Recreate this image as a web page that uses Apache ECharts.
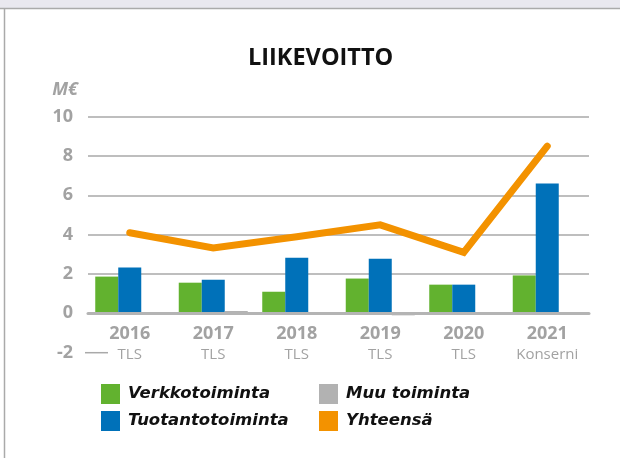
<!DOCTYPE html>
<html>
<head>
<meta charset="utf-8">
<script src="https://cdn.jsdelivr.net/npm/echarts@6/dist/echarts.min.js"></script>
<style>
  html, body { margin: 0; padding: 0; background: #fff; }
  #chart { width: 620px; height: 458px; }
</style>
</head>
<body>
<div id="chart"></div>
<script>
// vuodet ja alarivin tekstit
const years = ["2016", "2017", "2018", "2019", "2020", "2021"];
const subLabels = ["TLS", "TLS", "TLS", "TLS", "TLS", "Konserni"];

// liikevoitto M€
const verkko = [1.87, 1.56, 1.1, 1.77, 1.46, 1.93];
const tuotanto = [2.33, 1.71, 2.83, 2.78, 1.46, 6.6];
const muu = [0.06, 0.12, 0.07, -0.1, 0.05, 0];
const yhteensa = [4.1, 3.33, 3.9, 4.5, 3.1, 8.5];

const yTicks = { min: -2, max: 10, step: 2 };

const grey = "#a2a2a2";
const chart = echarts.init(document.getElementById("chart"));

const legendText = {
  fontSize: 16.5,
  fontStyle: "italic",
  fontWeight: "bold",
  color: "#111",
  fontFamily: "DejaVu Sans",
  padding: [0, 0, 0, 3],
};

const option = {
  animation: false,
  backgroundColor: "#fff",
  textStyle: { fontFamily: "Open Sans" },
  title: {
    text: "LIIKEVOITTO",
    left: 243,
    top: 41,
    textStyle: { fontSize: 23.5, fontWeight: "bold", color: "#111", fontFamily: "Open Sans" },
  },
  legend: [
    {
      orient: "vertical",
      left: 96,
      top: 379,
      itemWidth: 19,
      itemHeight: 20,
      itemGap: 7,
      icon: "rect",
      data: ["Verkkotoiminta", "Tuotantotoiminta"],
      textStyle: legendText,
    },
    {
      orient: "vertical",
      left: 314,
      top: 379,
      itemWidth: 19,
      itemHeight: 20,
      itemGap: 7,
      icon: "rect",
      data: ["Muu toiminta", "Yhteensä"],
      textStyle: legendText,
    },
  ],
  grid: { left: 88, right: 31, top: 116.7, bottom: 105.3 },
  xAxis: {
    type: "category",
    data: years,
    axisTick: { show: false },
    axisLine: { show: true, onZero: true, lineStyle: { color: "#b4b4b4", width: 3 } },
    axisLabel: {
      margin: -31,
      interval: 0,
      formatter: (v, i) => "{a|" + v + "}\n{b|" + subLabels[i] + "}",
      rich: {
        a: { fontSize: 18, fontWeight: "bold", color: grey, lineHeight: 24 },
        b: { fontSize: 15, color: grey, lineHeight: 19 },
      },
    },
    z: 5,
  },
  yAxis: {
    type: "value",
    min: yTicks.min,
    max: yTicks.max,
    interval: yTicks.step,
    name: "M€",
    nameLocation: "end",
    nameGap: 18,
    nameTextStyle: { fontSize: 18, fontWeight: "bold", fontStyle: "italic", color: grey, align: "right", padding: [0, 10, 0, 0] },
    axisLine: { show: false },
    axisTick: { show: false },
    axisLabel: { margin: 15, fontSize: 18, fontWeight: "bold", color: grey },
    splitLine: {
      lineStyle: {
        color: ["rgba(0,0,0,0)", "rgba(0,0,0,0)", "#a9a9a9", "#a9a9a9", "#a9a9a9", "#a9a9a9", "#a9a9a9"],
        width: 1.5,
      },
    },
  },
  series: [
    {
      name: "Verkkotoiminta",
      type: "bar",
      data: verkko,
      barWidth: 23,
      barGap: "0%",
      itemStyle: { color: "#62b22f" },
    },
    {
      name: "Tuotantotoiminta",
      type: "bar",
      data: tuotanto,
      barWidth: 23,
      barGap: "0%",
      itemStyle: { color: "#0071b9" },
    },
    {
      name: "Muu toiminta",
      type: "bar",
      data: muu,
      barWidth: 23,
      barGap: "0%",
      itemStyle: { color: "#b2b2b2" },
    },
    {
      name: "Yhteensä",
      type: "line",
      data: yhteensa,
      symbol: "none",
      z: 10,
      itemStyle: { color: "#f39200" },
      lineStyle: { color: "#f39200", width: 7, cap: "round", join: "miter" },
    },
  ],
};

chart.setOption(option);

// reunat ja lyhyt -2 viiva
const yMinus = chart.convertToPixel({ yAxisIndex: 0 }, -2);
chart.setOption({
  graphic: [
    { type: "rect", shape: { x: 0, y: 0, width: 620, height: 8 }, style: { fill: "#e9e8ef" }, silent: true },
    { type: "line", shape: { x1: 0, y1: 8.5, x2: 620, y2: 8.5 }, style: { stroke: "#aaaaaa", lineWidth: 1.5 }, silent: true },
    { type: "line", shape: { x1: 4.5, y1: 9, x2: 4.5, y2: 458 }, style: { stroke: "#aaaaaa", lineWidth: 1.5 }, silent: true },
    { type: "line", shape: { x1: 85, y1: yMinus, x2: 108, y2: yMinus }, style: { stroke: "#a9a9a9", lineWidth: 1.5 }, silent: true },
  ],
});
</script>
</body>
</html>
